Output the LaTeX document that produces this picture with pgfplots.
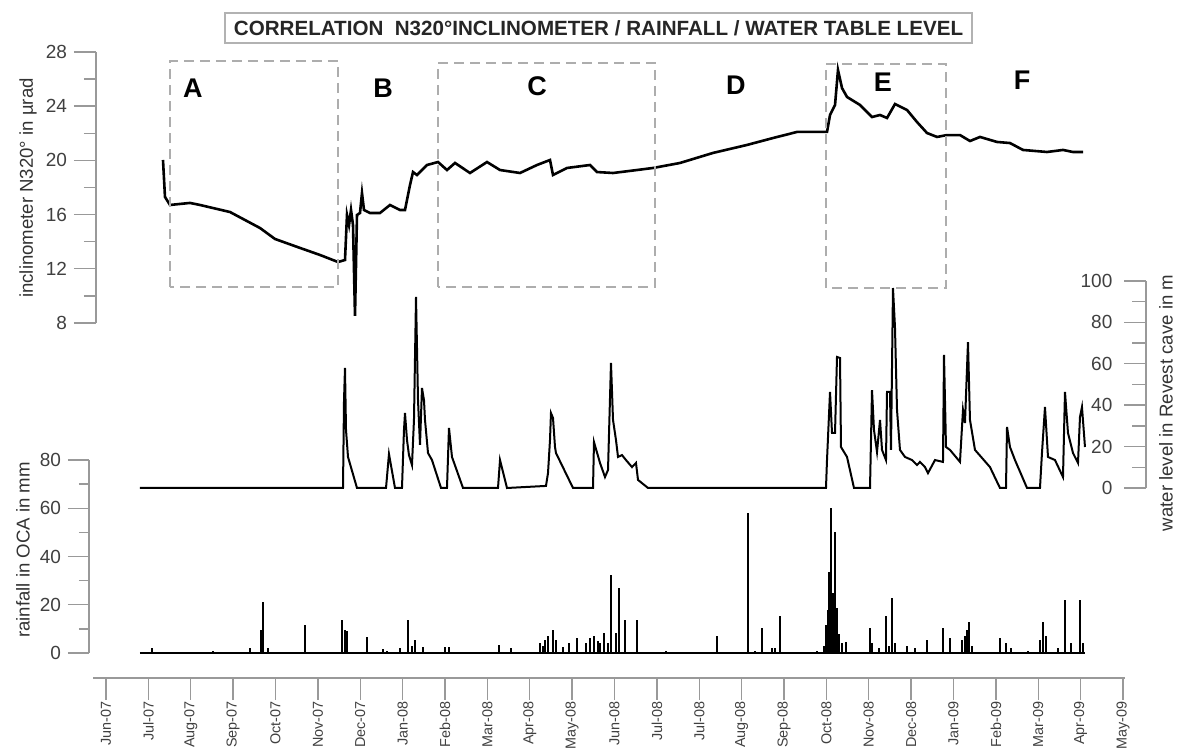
\documentclass[border=0pt]{standalone}
\usepackage{fontspec}
\setmainfont{Liberation Sans}
\usepackage{pgfplots}
\pgfplotsset{compat=1.18}

\definecolor{axgray}{gray}{0.6}
\definecolor{boxgray}{gray}{0.68}

% x in months, 0 = Jun-07 tick ... 24 = May-09 tick
\pgfplotsset{
  panel/.style={
    scale only axis, anchor=south west, clip=false,
    axis x line=none, xtick=\empty,
    axis line style={axgray, line width=0.7pt, -},
    tick style={axgray, line width=0.7pt},
    tick align=outside,
    major tick length=11pt, minor tick length=6pt,
    yticklabel style={font=\fontsize{9.5}{10}\selectfont, text=black!75},
    /pgf/number format/assume math mode=true,
  },
}
\tikzset{
  boxdash/.style={boxgray, line width=0.8pt, dash pattern=on 5pt off 3pt},
  letter/.style={font=\bfseries\fontsize{13.5}{14}\selectfont},
}

\begin{document}
\begin{tikzpicture}

% inclinometer
\begin{axis}[panel, at={(48pt,213pt)}, width=502pt, height=135.5pt,
  xmin=-0.236, xmax=23.457, ymin=8, ymax=28,
  axis y line*=left, ytick={8,12,...,28}, minor ytick={10,14,...,26}]
\addplot[black, line width=1.3pt] coordinates {
(1.345,20.03) (1.392,17.30) (1.510,16.71) (1.982,16.86) (2.218,16.71)
(2.926,16.19) (3.634,15.01) (3.988,14.20) (4.578,13.54) (5.050,13.02)
(5.475,12.50) (5.640,12.65) (5.687,15.97) (5.735,15.23) (5.782,16.34)
(5.829,15.23) (5.876,8.52) (5.923,15.97) (5.994,16.12) (6.041,17.59)
(6.088,16.34) (6.230,16.12) (6.466,16.12) (6.702,16.71) (6.938,16.34)
(7.056,16.34) (7.174,18.18) (7.245,19.14) (7.339,18.92) (7.575,19.66)
(7.835,19.88) (8.047,19.29) (8.236,19.81) (8.590,19.07) (8.991,19.88)
(9.298,19.29) (9.770,19.07) (10.171,19.66) (10.478,20.03) (10.549,18.92)
(10.879,19.44) (11.422,19.66) (11.587,19.14) (11.965,19.07) (12.531,19.29)
(12.909,19.44) (13.546,19.81) (14.324,20.55) (15.127,21.14) (15.740,21.65)
(16.307,22.10) (17.015,22.10) (17.086,23.35) (17.204,24.09) (17.274,26.67)
(17.369,25.34) (17.487,24.68) (17.794,24.09) (18.077,23.20) (18.266,23.35)
(18.431,23.13) (18.619,24.16) (18.903,23.72) (19.139,22.83) (19.375,22.02)
(19.611,21.73) (19.847,21.87) (20.153,21.87) (20.389,21.43) (20.625,21.73)
(21.027,21.36) (21.333,21.28) (21.640,20.77) (22.207,20.62) (22.584,20.77)
(22.820,20.62) (23.056,20.62)
};
\draw[boxdash] (axis cs:1.510,10.66) rectangle (axis cs:5.475,27.34);
\draw[boxdash] (axis cs:7.835,10.66) rectangle (axis cs:12.956,27.19);
\draw[boxdash] (axis cs:16.991,10.58) rectangle (axis cs:19.823,27.11);
\node[letter] at (axis cs:2.053,25.34) {A};
\node[letter] at (axis cs:6.537,25.34) {B};
\node[letter] at (axis cs:10.171,25.49) {C};
\node[letter] at (axis cs:14.867,25.56) {D};
\node[letter] at (axis cs:18.336,25.79) {E};
\node[letter] at (axis cs:21.617,25.93) {F};
\end{axis}

% water level
\begin{axis}[panel, at={(53pt,130.5pt)}, width=520pt, height=103.5pt,
  xmin=0, xmax=24.543, ymin=0, ymax=100,
  axis y line*=right, tick align=inside, minor tick length=7pt,
  ytick={0,20,...,100}, minor ytick={10,30,...,90},
  yticklabel style={anchor=east, xshift=-13.3pt}]
\addplot[black, line width=1pt] coordinates {
(0.802,0) (5.593,0) (5.617,42.5) (5.640,58.0) (5.664,28.0) (5.711,15.0)
(5.923,0) (6.608,0) (6.678,16.4) (6.820,0) (6.985,0) (7.032,28.0)
(7.056,36.2) (7.103,23.2) (7.150,15.9) (7.221,11.1) (7.268,32.9)
(7.316,92.3) (7.363,42.5) (7.410,20.8) (7.457,48.3) (7.504,42.5)
(7.528,32.9) (7.599,16.9) (7.693,13.5) (7.906,0) (8.047,0) (8.094,29.0)
(8.165,15.0) (8.425,0) (9.251,0) (9.298,13.5) (9.463,0) (10.383,1.0)
(10.431,7.2) (10.478,23.2) (10.501,36.2) (10.549,33.8) (10.596,19.8)
(10.619,16.9) (11.021,0) (11.493,0) (11.516,22.2) (11.658,12.1)
(11.776,5.3) (11.847,8.7) (11.917,60.4) (11.965,32.9) (12.035,23.2)
(12.083,15.0) (12.177,15.9) (12.271,13.5) (12.413,10.1) (12.507,12.1)
(12.555,3.9) (12.791,0) (16.991,0) (17.015,13.5) (17.086,46.4)
(17.133,26.6) (17.204,26.6) (17.251,63.3) (17.322,62.8) (17.345,19.8)
(17.487,15.0) (17.652,0) (18.030,0) (18.077,47.3) (18.124,28.0)
(18.195,17.4) (18.266,32.9) (18.313,18.4) (18.407,13.5) (18.431,46.4)
(18.501,46.4) (18.525,18.4) (18.572,96.6) (18.619,77.8) (18.667,37.7)
(18.737,18.4) (18.855,15.0) (19.021,13.5) (19.139,11.1) (19.209,12.6)
(19.327,10.1) (19.398,7.2) (19.563,13.5) (19.752,12.6) (19.776,64.3)
(19.823,19.8) (19.917,18.4) (20.153,12.6) (20.224,37.7) (20.271,31.4)
(20.342,70.5) (20.389,32.9) (20.507,18.4) (20.861,10.1) (21.097,0)
(21.239,0) (21.263,29.5) (21.333,19.8) (21.451,13.5) (21.735,0)
(22.041,0) (22.088,16.9) (22.159,39.1) (22.230,15.0) (22.395,13.5)
(22.584,5.3) (22.631,46.4) (22.702,26.6) (22.820,16.9) (22.938,12.1)
(22.985,34.3) (23.032,39.1) (23.103,19.8)
};
\end{axis}

% rainfall
\begin{axis}[panel, at={(44.5pt,48pt)}, width=505.5pt, height=96.5pt,
  xmin=-0.401, xmax=23.457, ymin=0, ymax=80,
  axis y line*=left, major tick length=10.5pt, minor tick length=5pt,
  ytick={0,20,...,80}, minor ytick={10,30,50,70}]
\addplot[black, line width=0.9pt] coordinates {(0.802,0) (23.103,0)};
\addplot[ycomb, black, line width=0.9pt] coordinates {
(1.086,2.1) (2.525,1.0) (3.398,2.0) (3.658,9.5) (3.705,21.1) (3.823,2.0)
(4.696,11.6) (5.569,13.7) (5.640,9.5) (5.687,9.0) (6.159,6.6) (6.537,1.5)
(6.631,1.0) (6.938,2.0) (7.127,13.7) (7.221,3.0) (7.292,5.4) (7.481,2.5)
(8.000,2.5) (8.094,2.5) (9.274,3.3) (9.558,2.0) (10.242,4.1) (10.313,3.0)
(10.360,5.4) (10.431,7.0) (10.549,9.5) (10.619,5.4) (10.785,2.5)
(10.926,4.1) (11.115,6.2) (11.328,4.0) (11.422,6.2) (11.516,7.0)
(11.611,5.0) (11.658,4.1) (11.752,8.3) (11.847,4.0) (11.917,32.3)
(12.035,8.3) (12.106,26.9) (12.248,13.7) (12.531,13.7) (13.215,1.0)
(14.419,7.0) (15.150,58.0) (15.316,1.0) (15.481,10.4) (15.717,2.0)
(15.788,2.0) (15.906,15.3) (16.779,1.0) (16.944,3.0) (16.991,11.6)
(17.038,18.0) (17.062,33.6) (17.109,60.1) (17.157,25.0) (17.204,50.2)
(17.251,18.7) (17.298,8.0) (17.369,4.0) (17.463,4.6) (18.030,10.4)
(18.077,4.1) (18.242,2.0) (18.407,15.3) (18.478,3.0) (18.549,22.8)
(18.619,4.1) (18.903,3.0) (19.091,2.0) (19.375,5.4) (19.752,10.4)
(19.917,6.2) (20.201,5.4) (20.271,7.0) (20.319,9.5) (20.366,12.8)
(20.437,3.0) (21.097,6.2) (21.239,4.1) (21.357,2.0) (21.758,1.0)
(22.041,5.4) (22.112,12.8) (22.183,7.0) (22.466,2.0) (22.631,22.0)
(22.773,4.1) (22.985,22.0) (23.056,4.1)
};
\end{axis}

% date axis
\begin{axis}[scale only axis, anchor=south west, at={(46.5pt,35.5pt)},
  width=516pt, height=10pt, xmin=-0.307, xmax=24.047, ymin=0, ymax=1,
  axis x line*=bottom, axis y line=none,
  axis line style={axgray, line width=0.7pt, -},
  tick style={axgray, line width=0.7pt},
  tick align=outside, major tick length=11pt,
  xtick={0,...,24},
  xticklabels={Jun-07,Jul-07,Aug-07,Sep-07,Oct-07,Nov-07,Dec-07,Jan-08,
    Feb-08,Mar-08,Apr-08,May-08,Jun-08,Jul-08,Jul-08,Aug-08,Sep-08,Oct-08,
    Nov-08,Dec-08,Jan-09,Feb-09,Mar-09,Apr-09,May-09},
  xticklabel style={rotate=90, anchor=east, inner sep=0.5pt,
    font=\fontsize{7.2}{8}\selectfont, text=black!75}]
\end{axis}

\node[draw=gray!60, line width=0.9pt, minimum width=373.5pt, minimum height=15pt,
  inner sep=0pt, font=\bfseries\fontsize{10.3}{11}\selectfont, text=black!85]
  at (299.25pt,360.5pt) {CORRELATION\ \ N320°INCLINOMETER / RAINFALL / WATER TABLE LEVEL};
\node[rotate=90, font=\fontsize{9.3}{10}\selectfont, text=black!80] at (14pt,280.5pt) {inclinometer N320° in µrad};
\node[rotate=90, font=\fontsize{9.3}{10}\selectfont, text=black!80] at (11.5pt,99.5pt) {rainfall in OCA in mm};
\node[rotate=90, inner sep=0.5pt, font=\fontsize{9.3}{10}\selectfont, text=black!80] at (583pt,173pt) {water level in Revest cave in m};

\pgfresetboundingbox
\useasboundingbox (0,0) rectangle (589.5pt,374.5pt);
\end{tikzpicture}
\end{document}
